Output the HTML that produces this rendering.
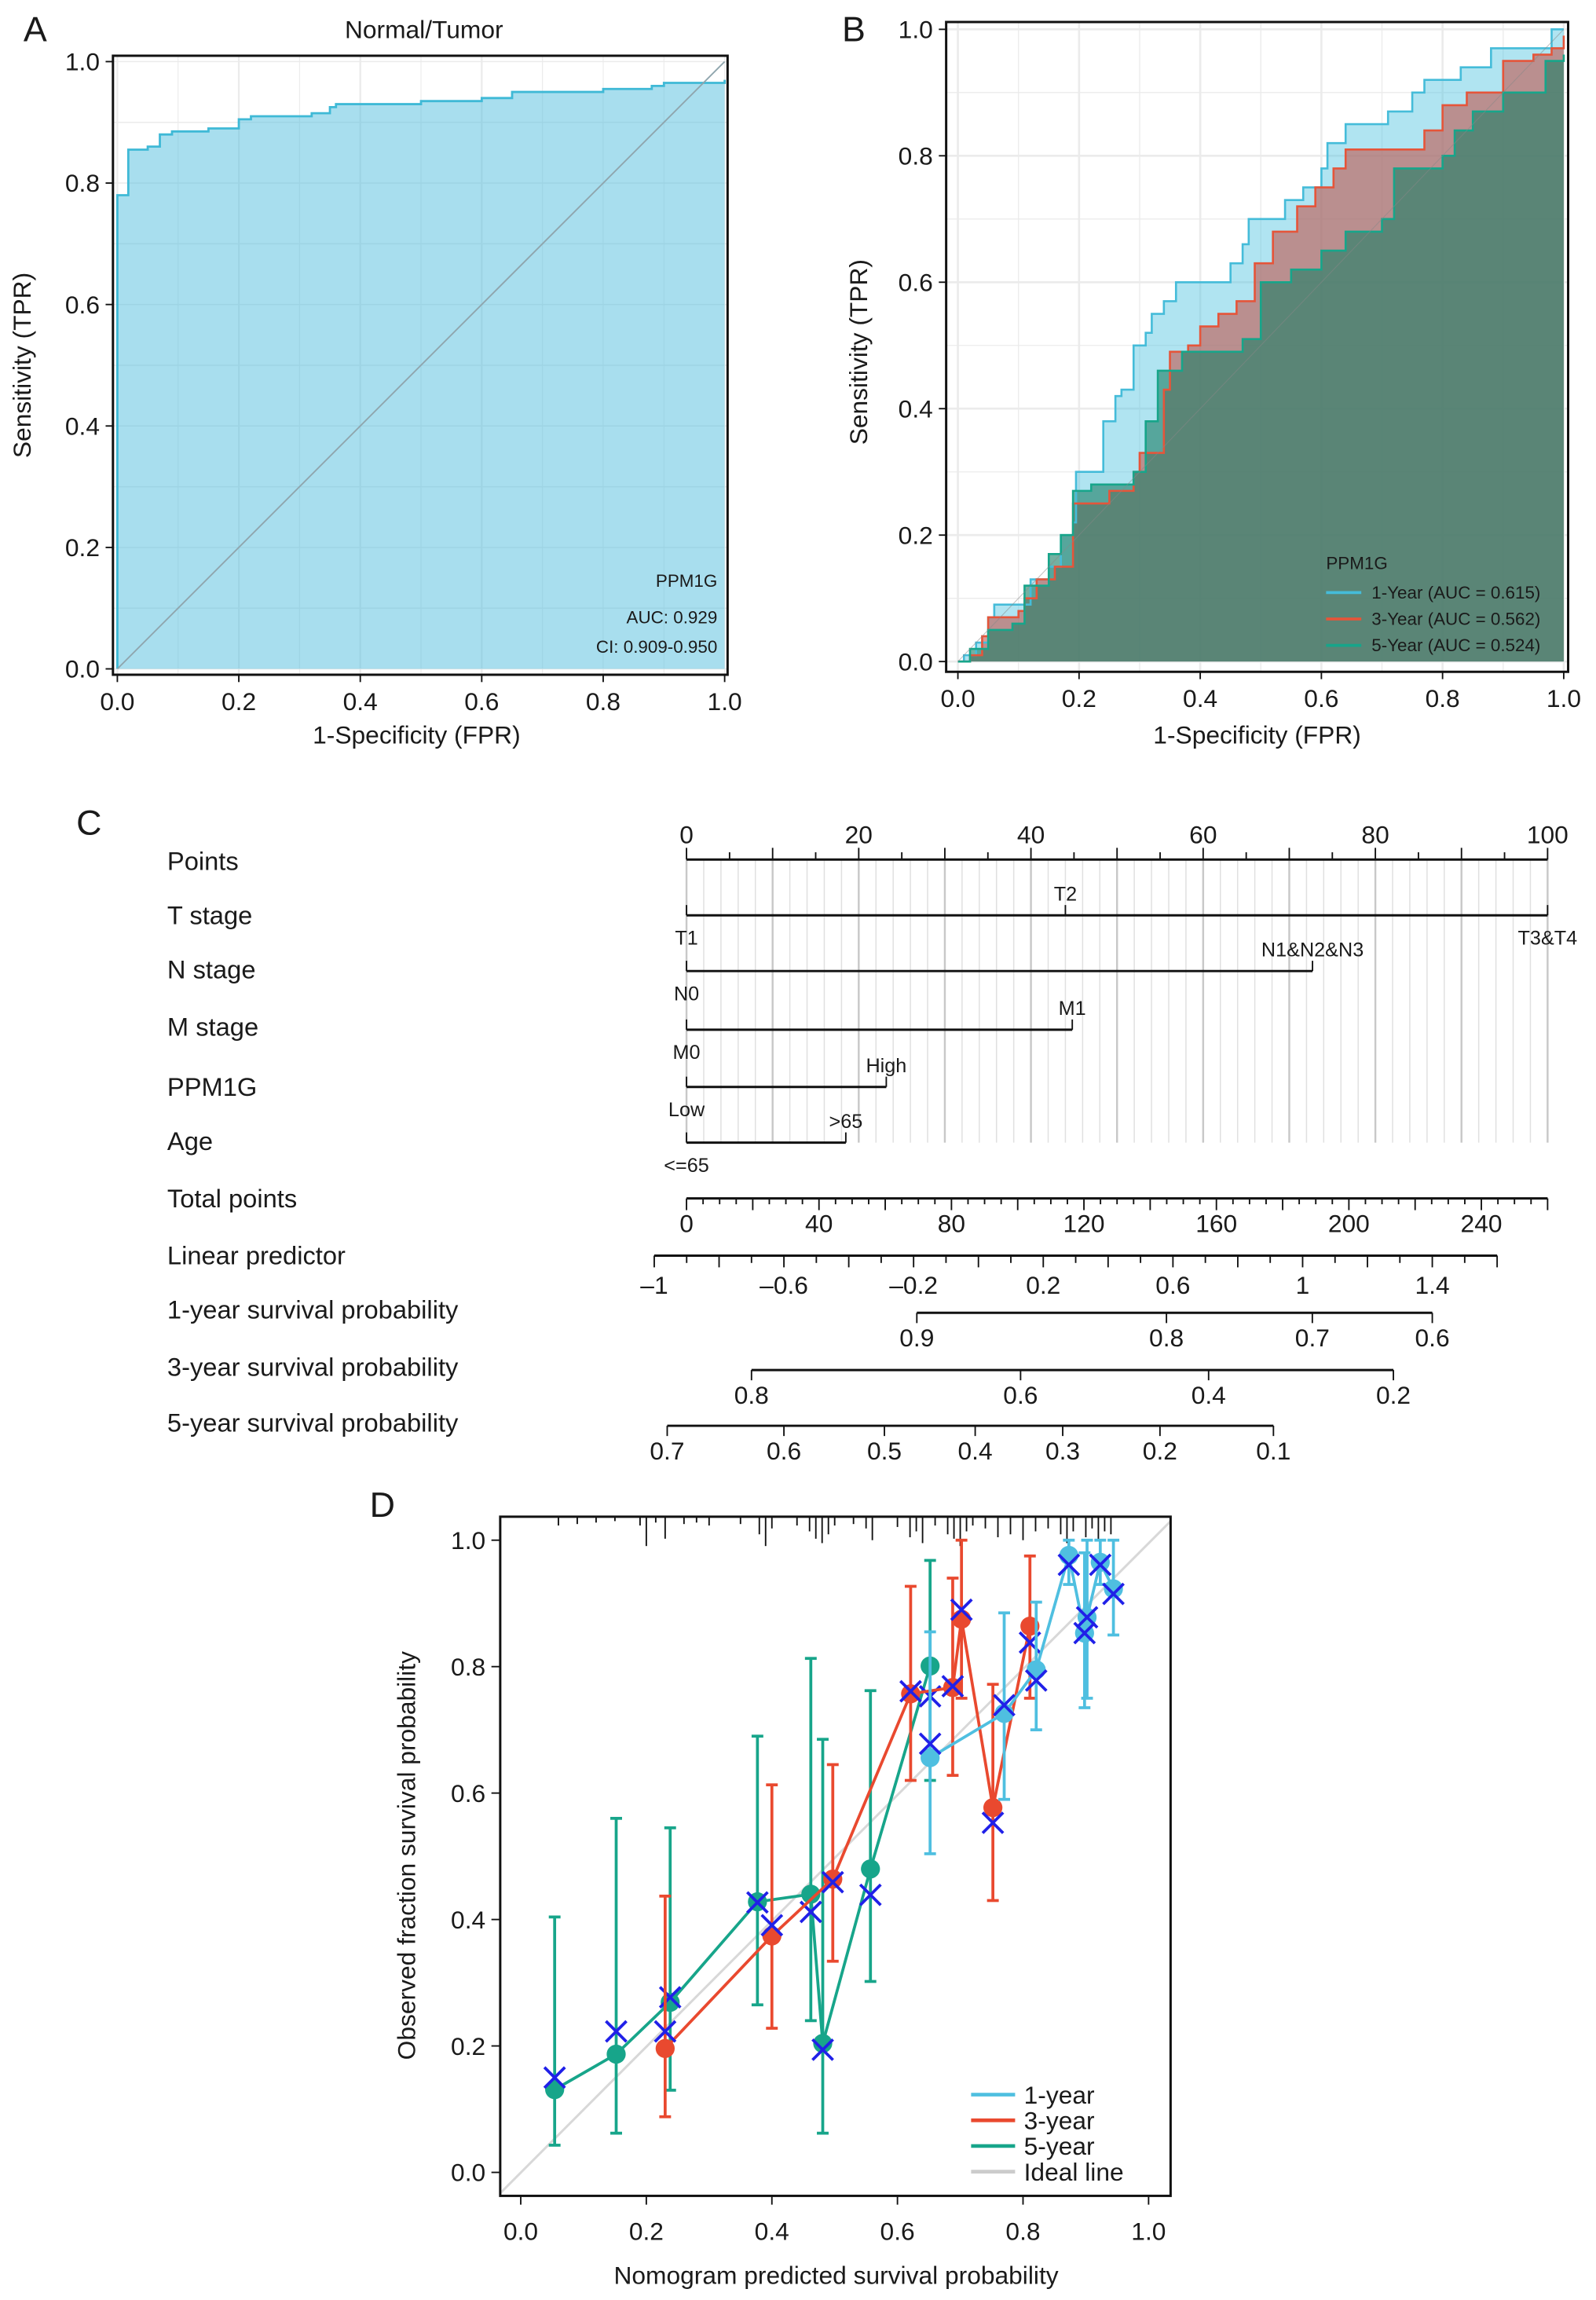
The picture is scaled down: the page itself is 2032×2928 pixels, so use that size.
<!DOCTYPE html>
<html><head><meta charset="utf-8"><style>
html,body{margin:0;padding:0;background:#fff}
svg{display:block}
text{font-family:"Liberation Sans",sans-serif;fill:#1a1a1a}
.nm{font-family:"Liberation Sans Narrow","Liberation Sans",sans-serif}
</style></head><body>
<svg id="fig" width="2032" height="2928" viewBox="0 0 1088 1568" preserveAspectRatio="none" xmlns="http://www.w3.org/2000/svg">
<g id="pa"></g>
<g id="pb"></g>
<g id="pc"></g>
<g id="pd"></g>
</svg>
<script>
// ---- Panel A data
const aFpr=[0,0,0.018,0.018,0.05,0.05,0.07,0.07,0.09,0.15,0.2,0.22,0.32,0.35,0.36,0.5,0.6,0.65,0.8,0.88,0.9,0.99,1];
const aTpr=[0,0.78,0.78,0.855,0.855,0.86,0.86,0.88,0.885,0.89,0.905,0.91,0.915,0.925,0.93,0.935,0.94,0.95,0.955,0.96,0.965,0.965,0.97];
const rocTicks=[0,0.2,0.4,0.6,0.8,1.0];
const rocTickLabels=["0.0","0.2","0.4","0.6","0.8","1.0"];
// ---- Panel B data
const b1Fpr=[0,0.01,0.03,0.05,0.06,0.1,0.12,0.15,0.17,0.19,0.195,0.23,0.24,0.26,0.27,0.29,0.31,0.32,0.34,0.36,0.43,0.45,0.47,0.48,0.52,0.54,0.57,0.6,0.61,0.64,0.68,0.71,0.75,0.77,0.83,0.88,0.97,0.98,1];
const b1Tpr=[0,0.01,0.03,0.07,0.09,0.09,0.13,0.15,0.2,0.22,0.3,0.3,0.38,0.42,0.43,0.5,0.52,0.55,0.57,0.6,0.6,0.63,0.66,0.7,0.7,0.73,0.75,0.78,0.82,0.85,0.85,0.87,0.9,0.92,0.94,0.97,0.97,1.0,1.0];
const b3Fpr=[0,0.02,0.04,0.05,0.1,0.11,0.13,0.16,0.19,0.25,0.29,0.3,0.34,0.35,0.38,0.4,0.43,0.46,0.49,0.52,0.56,0.59,0.62,0.64,0.73,0.77,0.8,0.84,0.9,0.95,0.98,1];
const b3Tpr=[0,0.01,0.04,0.07,0.08,0.1,0.13,0.15,0.25,0.27,0.3,0.33,0.43,0.49,0.5,0.53,0.55,0.57,0.63,0.68,0.72,0.75,0.78,0.81,0.81,0.84,0.88,0.9,0.95,0.96,0.97,0.99];
const b5Fpr=[0,0.02,0.05,0.09,0.11,0.15,0.17,0.19,0.22,0.29,0.31,0.33,0.37,0.47,0.5,0.55,0.6,0.64,0.7,0.72,0.8,0.82,0.85,0.9,0.97,1];
const b5Tpr=[0,0.02,0.05,0.06,0.12,0.17,0.2,0.27,0.28,0.3,0.38,0.46,0.49,0.51,0.6,0.62,0.65,0.68,0.7,0.78,0.8,0.84,0.87,0.9,0.95,0.96];
const bLegend=["1-Year (AUC = 0.615)","3-Year (AUC = 0.562)","5-Year (AUC = 0.524)"];
// ---- Panel C data
const nomoRows=["Points","T stage","N stage","M stage","PPM1G","Age","Total points","Linear predictor","1-year survival probability","3-year survival probability","5-year survival probability"];
const pointTicks=[0,20,40,60,80,100];
const tPoints=[0,44,100]; const tLabels=["T1","T2","T3&T4"];
const nPoints=[0,72.7]; const nLabels=["N0","N1&N2&N3"];
const mPoints=[0,44.8]; const mLabels=["M0","M1"];
const pPoints=[0,23.2]; const pLabels=["Low","High"];
const agePoints=[0,18.5]; const ageLabels=["<=65",">65"];
const totalTicks=[0,40,80,120,160,200,240];
const lpTicks=[-1,-0.6,-0.2,0.2,0.6,1,1.4]; const lpLabels=["\u20131","\u20130.6","\u20130.2","0.2","0.6","1","1.4"];
const s1Vals=[0.9,0.8,0.7,0.6]; const s1Pos=[-0.19,0.58,1.03,1.4];
const s3Vals=[0.8,0.6,0.4,0.2]; const s3Pos=[-0.70,0.13,0.71,1.28];
const s5Vals=[0.7,0.6,0.5,0.4,0.3,0.2,0.1]; const s5Pos=[-0.96,-0.60,-0.29,-0.01,0.26,0.56,0.91];
// ---- Panel D data
const c5x=[0.054,0.152,0.238,0.377,0.462,0.481,0.557,0.652];
const c5y=[0.131,0.187,0.269,0.428,0.440,0.204,0.480,0.801];
const c5lo=[0.043,0.062,0.13,0.265,0.24,0.062,0.302,0.62];
const c5hi=[0.404,0.56,0.545,0.69,0.813,0.685,0.762,0.968];
const c5cross=[0.15,0.223,0.277,0.427,0.412,0.194,0.439,0.753];
const c3x=[0.23,0.40,0.497,0.621,0.688,0.702,0.752,0.811];
const c3y=[0.196,0.374,0.464,0.757,0.767,0.875,0.577,0.864];
const c3lo=[0.088,0.228,0.334,0.62,0.628,0.75,0.43,0.75];
const c3hi=[0.437,0.613,0.645,0.927,0.94,1.0,0.772,0.975];
const c3cross=[0.223,0.391,0.459,0.761,0.769,0.89,0.553,0.838];
const c1x=[0.652,0.770,0.821,0.873,0.898,0.902,0.923,0.944];
const c1y=[0.656,0.726,0.795,0.976,0.853,0.878,0.965,0.923];
const c1lo=[0.504,0.59,0.70,0.93,0.735,0.75,0.93,0.85];
const c1hi=[0.855,0.885,0.902,1.0,0.98,1.0,1.0,1.0];
const c1cross=[0.678,0.739,0.778,0.961,0.853,0.878,0.961,0.915];
const rugX=[0.06,0.09,0.12,0.15,0.19,0.2,0.215,0.23,0.26,0.28,0.3,0.35,0.38,0.39,0.40,0.44,0.46,0.47,0.48,0.49,0.5,0.53,0.55,0.56,0.6,0.62,0.63,0.64,0.66,0.68,0.69,0.70,0.71,0.72,0.74,0.76,0.78,0.80,0.82,0.84,0.86,0.87,0.88,0.9,0.91,0.92,0.93,0.94];
const rugLen=[6,5,4,3,6,20,4,15,5,4,6,5,12,20,8,6,10,15,18,12,6,5,8,16,7,14,10,18,6,12,15,20,10,6,8,14,12,16,10,8,12,18,10,14,8,16,10,12];
const calTicks=[0,0.2,0.4,0.6,0.8,1.0];
const calLegend=["1-year","3-year","5-year","Ideal line"];

const NS="http://www.w3.org/2000/svg";
function mk(parent,tag,attrs,txt){const e=document.createElementNS(NS,tag);for(const k in attrs)e.setAttribute(k,attrs[k]);if(txt!==undefined)e.textContent=txt;parent.appendChild(e);return e;}
function stepPath(xs,ys,sx,sy){let d="M"+sx(xs[0])+","+sy(ys[0]);for(let i=1;i<xs.length;i++){d+="L"+sx(xs[i])+","+sy(ys[i-1])+"L"+sx(xs[i])+","+sy(ys[i]);}return d;}
function linPath(xs,ys,sx,sy){return xs.map((x,i)=>(i?"L":"M")+sx(x)+","+sy(ys[i])).join("");}

// ===== Panel A
(function(){
const g=document.getElementById('pa');
const sx=v=>80+v*414, sy=v=>456-v*414;
mk(g,'rect',{x:77,y:38,width:419,height:422,fill:'#fff'});
for(let v=0;v<=1.0001;v+=0.1){const l=mk(g,'line',{x1:sx(v),x2:sx(v),y1:38,y2:460,stroke:'#ebebeb','stroke-width':v*10%2<0.01?1.2:0.6});
mk(g,'line',{x1:77,x2:496,y1:sy(v),y2:sy(v),stroke:'#ebebeb','stroke-width':0.8});}
const area=mk(g,'path',{d:stepPath(aFpr,aTpr,sx,sy)+"L"+sx(1)+","+sy(0)+"Z",fill:'#52bedd','fill-opacity':0.5});

const ln=mk(g,'path',{d:stepPath(aFpr,aTpr,sx,sy),fill:'none',stroke:'#3fb9d6','stroke-width':1.5});

mk(g,'line',{x1:sx(0),y1:sy(0),x2:sx(1),y2:sy(1),stroke:'#8fa5ad','stroke-width':1});
mk(g,'rect',{x:77,y:38,width:419,height:422,fill:'none',stroke:'#111','stroke-width':1.6});
rocTicks.forEach((v,i)=>{mk(g,'line',{x1:sx(v),x2:sx(v),y1:460,y2:465,stroke:'#111'});mk(g,'line',{x1:72,x2:77,y1:sy(v),y2:sy(v),stroke:'#111'});
const t=mk(g,'text',{x:sx(v),y:484,'font-size':17,'text-anchor':'middle'},rocTickLabels[i]);
const u=mk(g,'text',{x:68,y:sy(v)+6,'font-size':17,'text-anchor':'end'},rocTickLabels[i]);});
const lt=[["A",16,28,24,'start'],["Normal/Tumor",289,26,17,'middle'],["1-Specificity (FPR)",284,507,17,'middle']];
lt.forEach(a=>mk(g,'text',{x:a[1],y:a[2],'font-size':a[3],'text-anchor':a[4]},a[0]));
mk(g,'text',{x:0,y:0,'font-size':17,'text-anchor':'middle',transform:'translate(21,249) rotate(-90)'},'Sensitivity (TPR)');
mk(g,'text',{x:489,y:400,'font-size':12,'text-anchor':'end'},'PPM1G');
mk(g,'text',{x:489,y:425,'font-size':12,'text-anchor':'end'},'AUC: 0.929');
mk(g,'text',{x:489,y:445,'font-size':12,'text-anchor':'end'},'CI: 0.909-0.950');
})();

// ===== Panel B
(function(){
const g=document.getElementById('pb');
const sx=v=>653+v*413, sy=v=>451-v*431;
for(let v=0;v<=1.0001;v+=0.1){mk(g,'line',{x1:sx(v),x2:sx(v),y1:15,y2:458,stroke:'#ebebeb','stroke-width':(Math.round(v*10)%2==0)?1.4:0.7});
mk(g,'line',{x1:645,x2:1069,y1:sy(v),y2:sy(v),stroke:'#ebebeb','stroke-width':(Math.round(v*10)%2==0)?1.4:0.7});}
const series=[[b1Fpr,b1Tpr,'#4fc3e0','#45bcd9','1-year'],[b3Fpr,b3Tpr,'#c2574e','#e5553a','3-year'],[b5Fpr,b5Tpr,'#1f7f68','#17a58a','5-year']];
series.forEach((s,i)=>{const a=mk(g,'path',{d:stepPath(s[0],s[1],sx,sy)+"L"+sx(1)+","+sy(0)+"L"+sx(0)+","+sy(0)+"Z",fill:s[2],'fill-opacity':i==2?0.62:(i==1?0.6:0.45)});
});
series.forEach(s=>{const l=mk(g,'path',{d:stepPath(s[0],s[1],sx,sy),fill:'none',stroke:s[3],'stroke-width':1.4});});
mk(g,'line',{x1:sx(0),y1:sy(0),x2:sx(1),y2:sy(1),stroke:'#888','stroke-width':0.6,'stroke-opacity':0.5});
mk(g,'rect',{x:645,y:15,width:424,height:443,fill:'none',stroke:'#111','stroke-width':1.6});
rocTicks.forEach((v,i)=>{mk(g,'line',{x1:sx(v),x2:sx(v),y1:458,y2:463,stroke:'#111'});mk(g,'line',{x1:640,x2:645,y1:sy(v),y2:sy(v),stroke:'#111'});
mk(g,'text',{x:sx(v),y:482,'font-size':17,'text-anchor':'middle'},rocTickLabels[i]);
mk(g,'text',{x:636,y:sy(v)+6,'font-size':17,'text-anchor':'end'},rocTickLabels[i]);});
mk(g,'text',{x:574,y:28,'font-size':24},'B');
mk(g,'text',{x:857,y:507,'font-size':17,'text-anchor':'middle'},'1-Specificity (FPR)');
mk(g,'text',{x:0,y:0,'font-size':17,'text-anchor':'middle',transform:'translate(591,240) rotate(-90)'},'Sensitivity (TPR)');
mk(g,'text',{x:904,y:388,'font-size':12},'PPM1G');
bLegend.forEach((t,i)=>{const y=404+i*18;mk(g,'line',{x1:904,x2:928,y1:y,y2:y,stroke:series[i][3],'stroke-width':2});
const e=mk(g,'text',{x:935,y:y+4,'font-size':12},t);});
})();

// ===== Panel C
(function(){
const g=document.getElementById('pc');
const px=p=>468+p*5.87;             // points scale
const tx=p=>468+p*2.2577;           // total points
const lx=v=>446+(v+1)*221;          // linear predictor
mk(g,'text',{x:52,y:569,'font-size':24},'C');
const rowY=[587,624,661,700,741,778,817,856,893,932,970];
nomoRows.forEach((r,i)=>{const t=mk(g,'text',{x:114,y:rowY[i]+6,'font-size':17.5,'class':'nm'},r);});
// vertical grid
for(let p=0;p<=100;p+=2){mk(g,'line',{x1:px(p),x2:px(p),y1:586,y2:779,stroke:p%10==0?'#c8c8c8':'#e0e0e0','stroke-width':p%10==0?1.3:0.8});}
// points axis
mk(g,'line',{x1:px(0),x2:px(100),y1:586,y2:586,stroke:'#111','stroke-width':1.6});
for(let p=0;p<=100;p+=5){mk(g,'line',{x1:px(p),x2:px(p),y1:586,y2:p%10==0?578:581,stroke:'#111','stroke-width':1});}
pointTicks.forEach(v=>mk(g,'text',{x:px(v),y:575,'font-size':17,'text-anchor':'middle','class':'nm'},String(v)));
// variable rows
const vars=[[tPoints,tLabels,624],[nPoints,nLabels,662],[mPoints,mLabels,702],[pPoints,pLabels,741],[agePoints,ageLabels,779]];
vars.forEach(vr=>{const [pts,lab,y]=vr;const maxp=Math.max(...pts);
const l=mk(g,'line',{x1:px(0),x2:px(maxp),y1:y,y2:y,stroke:'#111','stroke-width':1.6});
pts.forEach((p,i)=>{mk(g,'line',{x1:px(p),x2:px(p),y1:y,y2:y-7,stroke:'#111','stroke-width':1});
const above=(i%2==1);mk(g,'text',{x:px(p),y:above?y-10:y+20,'font-size':13.5,'text-anchor':'middle','class':'nm'},lab[i]);});});
// total points
mk(g,'line',{x1:tx(0),x2:tx(260),y1:817,y2:817,stroke:'#111','stroke-width':1.6});
for(let p=0;p<=260;p+=5){mk(g,'line',{x1:tx(p),x2:tx(p),y1:817,y2:p%20==0?825:821,stroke:'#111','stroke-width':1});}
totalTicks.forEach(v=>mk(g,'text',{x:tx(v),y:840,'font-size':17,'text-anchor':'middle','class':'nm'},String(v)));
// linear predictor
mk(g,'line',{x1:lx(-1),x2:lx(1.6),y1:856,y2:856,stroke:'#111','stroke-width':1.6});
for(let k=0;k<=26;k++){const v=-1+k*0.1;mk(g,'line',{x1:lx(v),x2:lx(v),y1:856,y2:k%2==0?864:861,stroke:'#111','stroke-width':1});}
lpTicks.forEach((v,i)=>mk(g,'text',{x:lx(v),y:882,'font-size':17,'text-anchor':'middle','class':'nm'},lpLabels[i]));
// survival axes
const sAx=[[s1Vals,s1Pos,895],[s3Vals,s3Pos,934],[s5Vals,s5Pos,972]];
sAx.forEach(a=>{const [vals,pos,y]=a;const l=mk(g,'line',{x1:lx(pos[0]),x2:lx(pos[pos.length-1]),y1:y,y2:y,stroke:'#111','stroke-width':1.6});

pos.forEach((p,i)=>{mk(g,'line',{x1:lx(p),x2:lx(p),y1:y,y2:y+7,stroke:'#111','stroke-width':1});
mk(g,'text',{x:lx(p),y:y+23,'font-size':17,'text-anchor':'middle','class':'nm'},String(vals[i]));});});
})();

// ===== Panel D
(function(){
const g=document.getElementById('pd');
const sx=v=>355+v*428, sy=v=>1481-v*431;
mk(g,'text',{x:252,y:1034,'font-size':24},'D');
mk(g,'line',{x1:341,y1:sy(-0.033),x2:798,y2:sy(1.03),stroke:'#d8d8d8','stroke-width':1.6});
// rug
rugX.forEach((v,i)=>{const r=mk(g,'line',{x1:sx(v),x2:sx(v),y1:1034,y2:1034+rugLen[i],stroke:'#111','stroke-width':1});});
const ser=[[c5x,c5y,c5lo,c5hi,c5cross,'#17a58a','5-year'],[c3x,c3y,c3lo,c3hi,c3cross,'#e9492f','3-year'],[c1x,c1y,c1lo,c1hi,c1cross,'#4fbfe0','1-year']];
ser.forEach(s=>{const [xs,ys,lo,hi,cr,col,nm]=s;
xs.forEach((x,i)=>{mk(g,'line',{x1:sx(x),x2:sx(x),y1:sy(lo[i]),y2:sy(hi[i]),stroke:col,'stroke-width':2});
mk(g,'line',{x1:sx(x)-4,x2:sx(x)+4,y1:sy(lo[i]),y2:sy(lo[i]),stroke:col,'stroke-width':2});
mk(g,'line',{x1:sx(x)-4,x2:sx(x)+4,y1:sy(hi[i]),y2:sy(hi[i]),stroke:col,'stroke-width':2});});
const l=mk(g,'path',{d:linPath(xs,ys,sx,sy),fill:'none',stroke:col,'stroke-width':2});
xs.forEach((x,i)=>{const c=mk(g,'circle',{cx:sx(x),cy:sy(ys[i]),r:6.5,fill:col});});
xs.forEach((x,i)=>{const cx=sx(x),cy=sy(cr[i]),d=7;mk(g,'path',{d:`M${cx-d},${cy-d}L${cx+d},${cy+d}M${cx-d},${cy+d}L${cx+d},${cy-d}`,stroke:'#2020e8','stroke-width':2,fill:'none'});});});
mk(g,'rect',{x:341,y:1034,width:457,height:463,fill:'none',stroke:'#111','stroke-width':1.6});
calTicks.forEach((v,i)=>{mk(g,'line',{x1:sx(v),x2:sx(v),y1:1497,y2:1503,stroke:'#111'});mk(g,'line',{x1:335,x2:341,y1:sy(v),y2:sy(v),stroke:'#111'});
mk(g,'text',{x:sx(v),y:1527,'font-size':17,'text-anchor':'middle'},rocTickLabels[i]);
mk(g,'text',{x:331,y:sy(v)+6,'font-size':17,'text-anchor':'end'},rocTickLabels[i]);});
mk(g,'text',{x:570,y:1557,'font-size':17,'text-anchor':'middle'},'Nomogram predicted survival probability');
mk(g,'text',{x:0,y:0,'font-size':17,'text-anchor':'middle',transform:'translate(283,1265) rotate(-90)'},'Observed fraction survival probability');
const lc=['#4fbfe0','#e9492f','#17a58a','#cccccc'];
calLegend.forEach((t,i)=>{const y=1428+i*17.5;mk(g,'line',{x1:662,x2:692,y1:y,y2:y,stroke:lc[i],'stroke-width':2.5});
const e=mk(g,'text',{x:698,y:y+6,'font-size':17},t);});
})();
</script>
</body></html>
